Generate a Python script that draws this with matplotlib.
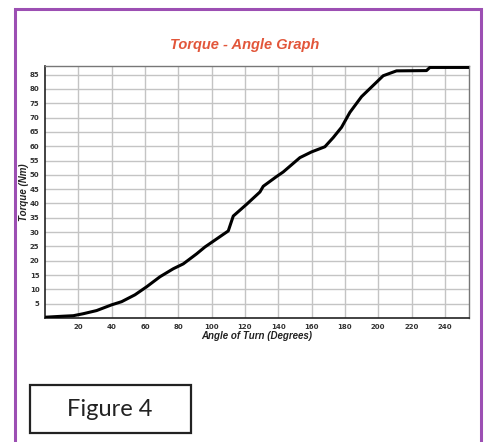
import matplotlib
matplotlib.use("Agg")
import matplotlib.pyplot as plt
from matplotlib.patches import Rectangle

angle_deg = [1, 10, 17, 23, 31, 40, 46, 54, 61, 69, 77, 83, 91, 96, 103, 110, 113,
             121, 129, 131, 139, 143, 153, 160, 168, 173, 178, 183, 190, 203, 211,
             229, 231, 255]
torque_nm = [0.3, 0.6, 0.8, 1.5, 2.6, 4.6, 5.7, 8.1, 10.9, 14.4, 17.2, 18.9, 22.4,
             24.8, 27.6, 30.4, 35.6, 39.7, 44.0, 46.0, 49.4, 51.0, 56.0, 58.0, 59.8,
             63.0, 66.6, 71.8, 77.3, 84.6, 86.3, 86.4, 87.5, 87.5]
x_ticks = [20, 40, 60, 80, 100, 120, 140, 160, 180, 200, 220, 240]
y_ticks = [5, 10, 15, 20, 25, 30, 35, 40, 45, 50, 55, 60, 65, 70, 75, 80, 85]

W, H = 488, 442
fig = plt.figure(figsize=(W / 100, H / 100), dpi=100)
fig.patch.set_facecolor("white")

# purple outer frame
fig.patches.append(Rectangle((14.5 / W, -0.05), (481 - 14.5) / W, 1.05 - 8.5 / H,
                             transform=fig.transFigure, fill=False,
                             edgecolor="#9c4fb3", linewidth=2.2, zorder=0))

ax = fig.add_axes([45 / W, 1 - 318 / H, (469 - 45) / W, (318 - 66) / H])
ax.plot(angle_deg, torque_nm, color="black", linewidth=2.2, solid_joinstyle="round",
        zorder=3)
ax.set_xlim(0, 254.5)
ax.set_ylim(0, 88)
ax.set_xticks(x_ticks)
ax.set_yticks(y_ticks)
ax.grid(True, color="#c4c4c4", linewidth=1.0)
ax.set_axisbelow(True)
ax.tick_params(length=0, labelsize=5, labelcolor="#333333", pad=4)
for lab in ax.get_xticklabels() + ax.get_yticklabels():
    lab.set_fontweight("bold")
for s in ["top", "right"]:
    ax.spines[s].set_color("#777777")
    ax.spines[s].set_linewidth(1.0)
for s in ["left", "bottom"]:
    ax.spines[s].set_color("#222222")
    ax.spines[s].set_linewidth(1.2)

ax.set_xlabel("Angle of Turn (Degrees)", fontsize=7, fontweight="bold",
              fontstyle="italic", color="#222222", labelpad=1, family="Liberation Sans")
ax.set_ylabel("Torque (Nm)", fontsize=7, fontweight="bold", fontstyle="italic",
              color="#222222", family="Liberation Sans")
ax.yaxis.set_label_coords((29 - 45) / (469 - 45), 0.5)

fig.text(0.502, 1 - 45 / H, "Torque - Angle Graph", ha="center", va="center",
         fontsize=10.5, fontweight="bold", fontstyle="italic", color="#e2563a",
         family="Liberation Sans")

# Figure 4 box
fig.patches.append(Rectangle((29.5 / W, 1 - 433 / H), (191 - 29.5) / W, (433 - 385) / H,
                             transform=fig.transFigure, fill=False,
                             edgecolor="#222222", linewidth=1.6))
fig.text(110 / W, 1 - 409 / H, "Figure 4", ha="center", va="center", fontsize=17,
         color="#222222", family="Lato")

fig.savefig("out.png", dpi=100)
